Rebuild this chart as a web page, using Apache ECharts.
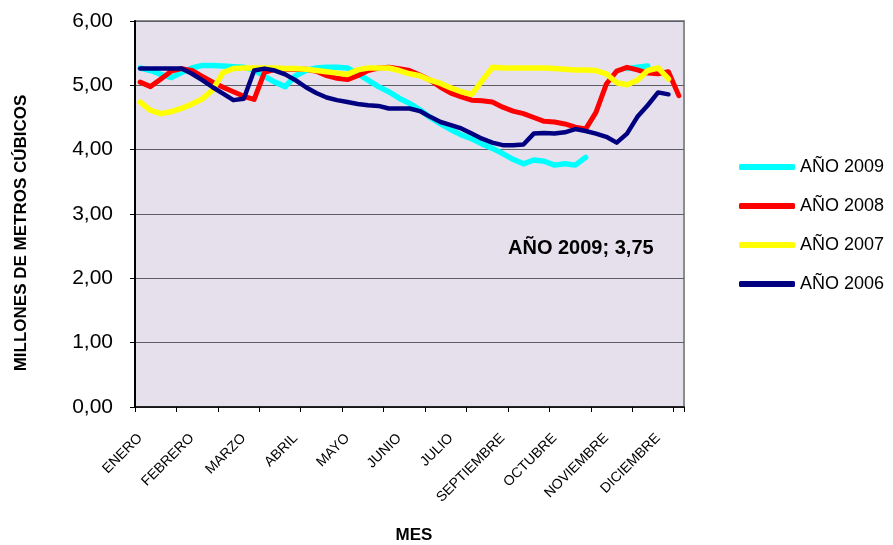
<!DOCTYPE html>
<html>
<head>
<meta charset="utf-8">
<script src="https://cdn.jsdelivr.net/npm/echarts@6/dist/echarts.min.js"></script>
<style>
html,body{margin:0;padding:0;background:#fff;}
#chart{width:893px;height:545px;}
</style>
</head>
<body>
<div id="chart"></div>
<script>
// 53 weekly points along the year; a month label every 5 weeks
const monthLabels = ['ENERO','FEBRERO','MARZO','ABRIL','MAYO','JUNIO','JULIO','SEPTIEMBRE','OCTUBRE','NOVIEMBRE','DICIEMBRE'];
const weeks = ['1','2','3','4','5','6','7','8','9','10','11','12','13','14','15','16','17','18','19','20','21','22','23','24','25','26','27','28','29','30','31','32','33','34','35','36','37','38','39','40','41','42','43','44','45','46','47','48','49','50','51','52','53'];
const yTicks = [0,1,2,3,4,5,6];

const ano2009 = [5.27,5.23,5.17,5.12,5.20,5.27,5.31,5.31,5.30,5.29,5.28,5.24,5.14,5.05,4.98,5.15,5.23,5.27,5.28,5.28,5.27,5.18,5.08,4.98,4.90,4.80,4.72,4.62,4.50,4.40,4.31,4.23,4.17,4.09,4.02,3.94,3.85,3.78,3.84,3.82,3.76,3.78,3.76,3.88,null,null,null,5.26,5.28,5.30,null,null,null];
const ano2008 = [5.05,4.98,5.10,5.22,5.26,5.23,5.14,5.05,4.97,4.90,4.83,4.78,5.20,5.25,5.25,5.25,5.25,5.22,5.15,5.11,5.09,5.15,5.23,5.27,5.28,5.26,5.23,5.16,5.08,4.97,4.88,4.82,4.77,4.76,4.74,4.66,4.60,4.56,4.50,4.44,4.43,4.40,4.35,4.32,4.58,5.02,5.22,5.28,5.24,5.19,5.18,5.21,4.84];
const ano2007 = [4.74,4.61,4.56,4.59,4.64,4.71,4.79,4.93,5.20,5.26,5.27,5.27,5.27,5.27,5.26,5.26,5.25,5.23,5.21,5.19,5.17,5.24,5.27,5.27,5.27,5.23,5.18,5.15,5.08,5.03,4.96,4.90,4.86,5.07,5.28,5.27,5.27,5.27,5.27,5.27,5.26,5.25,5.24,5.24,5.23,5.18,5.04,5.01,5.08,5.23,5.27,5.10,null];
const ano2006 = [5.26,5.26,5.26,5.26,5.26,5.18,5.08,4.97,4.87,4.77,4.79,5.23,5.26,5.23,5.17,5.08,4.97,4.88,4.81,4.77,4.74,4.71,4.69,4.68,4.64,4.64,4.64,4.60,4.51,4.43,4.38,4.33,4.25,4.17,4.11,4.07,4.07,4.08,4.25,4.26,4.25,4.27,4.32,4.29,4.25,4.20,4.11,4.25,4.51,4.69,4.89,4.86,null];

const seriesNames = ['AÑO 2009','AÑO 2008','AÑO 2007','AÑO 2006'];
const seriesData = [ano2009, ano2008, ano2007, ano2006];
const seriesColors = ['#00FFFF','#FF0000','#FFFF00','#000080'];
const seriesWidths = [5.5,5,5.5,4.5];

const FONT = '"Liberation Sans", Arial, sans-serif';
const chart = echarts.init(document.getElementById('chart'), null, {renderer:'canvas'});
chart.setOption({
  backgroundColor:'#ffffff',
  animation:false,
  textStyle:{fontFamily:FONT},
  grid:{left:135, top:21, width:549, height:386, show:true, backgroundColor:'#E5E0EC', borderColor:'#8C8C8C', borderWidth:2},
  legend:{
    orient:'vertical', left:734, top:153, icon:'roundRect', itemWidth:56, itemHeight:6, itemGap:21,
    textStyle:{fontFamily:FONT, fontSize:18, color:'#000'},
    data: seriesNames
  },
  xAxis:{
    type:'category', data:weeks, boundaryGap:true,
    axisLine:{lineStyle:{color:'#000', width:1.5}},
    axisTick:{show:true, interval:3, length:5, lineStyle:{color:'#000'}},
    axisLabel:{interval:4, rotate:45, margin:29, fontSize:14, color:'#000', fontFamily:FONT,
      formatter:(v,i)=> monthLabels[Math.round(i/5)] || ''},
    splitLine:{show:false}
  },
  yAxis:{
    type:'value', min:yTicks[0], max:yTicks[yTicks.length-1], interval:1,
    axisLine:{show:true, lineStyle:{color:'#000', width:2}},
    axisTick:{show:true, length:5, lineStyle:{color:'#000'}},
    axisLabel:{margin:22, fontSize:21, color:'#000', fontFamily:FONT,
      formatter:v=> v.toFixed(2).replace('.',',')},
    splitLine:{show:true, lineStyle:{color:'#5E5E66', width:1.2}}
  },
  graphic:[
    {type:'text', left:508, top:238, style:{text:'AÑO 2009; 3,75', font:'bold 20px "Liberation Sans", Arial, sans-serif', fill:'#000'}},
    {type:'text', x:21, y:233, rotation:Math.PI/2, style:{text:'MILLONES DE METROS CÚBICOS', font:'bold 17px "Liberation Sans", Arial, sans-serif', fill:'#000', align:'center', verticalAlign:'middle'}},
    {type:'text', x:414, y:535, style:{text:'MES', font:'bold 17px "Liberation Sans", Arial, sans-serif', fill:'#000', align:'center', verticalAlign:'middle'}}
  ],
  series: seriesNames.map((n,k)=>({
    name:n, type:'line', data:seriesData[k], symbol:'none', connectNulls:false,
    color:seriesColors[k],
    lineStyle:{color:seriesColors[k], width:seriesWidths[k], cap:'round', join:'round'}
  }))
});
</script>
</body>
</html>
